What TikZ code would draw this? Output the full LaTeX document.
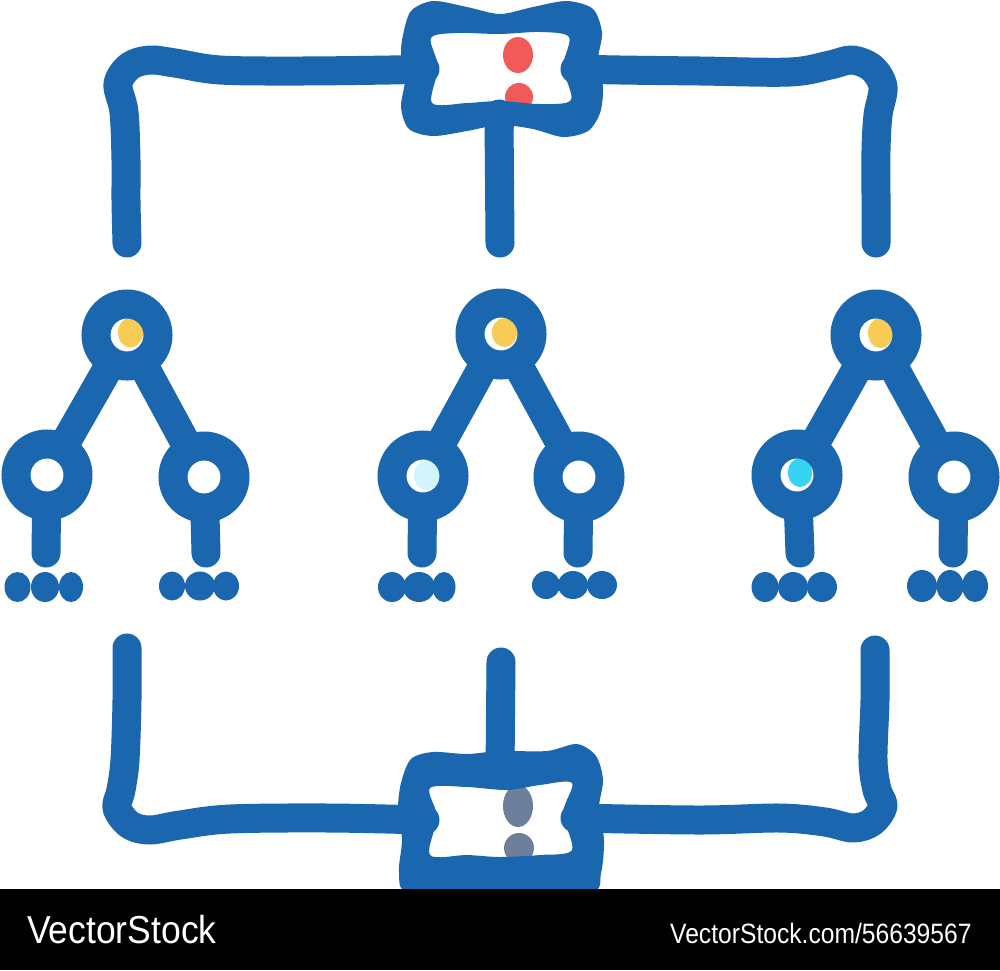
\documentclass[tikz,border=0pt]{standalone}
\usepackage{fontspec}
\newfontfamily\wmfont{Liberation Sans}
\definecolor{brand}{HTML}{1A66AF}
\definecolor{dotyellow}{HTML}{F8CB55}
\definecolor{dotpale}{HTML}{D2F4FC}
\definecolor{dotcyan}{HTML}{35D4F2}
\definecolor{dotred}{HTML}{F25A59}
\definecolor{dotgrey}{HTML}{6E7F9B}
\begin{document}
\begin{tikzpicture}[x=1pt,y=-1pt,
  conn/.style={draw=brand,line width=29pt,line cap=round,line join=round},
  branch/.style={draw=brand,line width=30pt,line cap=round},
  stem/.style={draw=brand,line width=29pt,line cap=round},
  ringstroke/.style={draw=brand,line width=29pt},
  frameshape/.style={fill=brand,even odd rule},
  leaf/.style={fill=brand},
  wm/.style={anchor=base west,inner sep=0pt,text=white}]
\useasboundingbox (0,0) rectangle (1000,970);
\fill[white] (0,0) rectangle (1000,970);

% ---- connectors (under the frames)
\draw[conn] plot[smooth,tension=0.55] coordinates {(425,69) (390,70) (300,71) (220,70) (175,63) (150,60) (130,66) (118,84) (124,112) (126,160) (126,200) (127,243)};
\draw[conn] plot[smooth,tension=0.55] coordinates {(575,69) (620,70) (700,71) (790,72) (830,65) (852,60) (872,68) (883,87) (878,115) (876,150) (876,200) (876,243)};
\draw[conn] (499,118) -- (500,243);
\draw[conn] plot[smooth,tension=0.55] coordinates {(127,648) (127,700) (125,760) (121,790) (117,808) (130,825) (150,830) (180,825) (230,819) (330,818) (425,820)};
\draw[conn] plot[smooth,tension=0.55] coordinates {(875,650) (875,700) (873,760) (877,790) (883,806) (872,822) (853,828) (825,822) (780,818) (700,820) (575,818)};
\draw[conn] (501,662) -- (500,772);

% ---- dots inside frames
\fill[dotred] (518,55) ellipse[x radius=15,y radius=18];
\fill[dotred] (519,97) circle[radius=14];
\fill[dotgrey] (518,806) ellipse[x radius=15,y radius=21];
\fill[dotgrey] (519,848) circle[radius=15];

% ---- top frame
\path[frameshape]
  plot[smooth cycle,tension=0.5] coordinates {(403,35) (411,11) (433,1) (467,7) (500,14) (533,7) (567,1) (593,9) (602,33) (598,60) (603,88) (600,113) (588,131) (563,137) (533,129) (500,125) (467,131) (433,136) (409,129) (401,107) (405,80) (401,55)}
  plot[smooth cycle,tension=0.5] coordinates {(431,38) (457,33) (500,34) (540,32) (569,37) (563,67) (571,100) (540,104) (500,101) (467,103) (432,103) (438,67)};
\draw[conn] (499,114) -- (499,125);

% ---- bottom frame
\path[frameshape]
  plot[smooth cycle,tension=0.5] coordinates {(401,783) (411,759) (433,752) (467,754) (500,751) (547,751) (577,744) (596,756) (603,780) (599,808) (604,840) (601,873) (590,893) (500,895) (410,893) (399,873) (402,840) (398,810)}
  plot[smooth cycle,tension=0.5] coordinates {(430,788) (467,787) (507,790) (540,785) (572,783) (563,813) (572,850) (540,855) (500,857) (467,855) (430,855) (437,817)};

% ---- trees: coordinates
\coordinate (t1) at (127,335);  \coordinate (l1) at (47,475);   \coordinate (r1) at (204,477);
\coordinate (t2) at (501,334);  \coordinate (l2) at (423,476);  \coordinate (r2) at (579,477);
\coordinate (t3) at (876,335);  \coordinate (l3) at (797,475);  \coordinate (r3) at (954,477);
\coordinate (s1l) at (46,553);  \coordinate (s1r) at (206,553);
\coordinate (s2l) at (422,553); \coordinate (s2r) at (578,553);
\coordinate (s3l) at (800,553); \coordinate (s3r) at (953,553);

% branches and stems
\foreach \t/\l/\r in {t1/l1/r1,t2/l2/r2,t3/l3/r3}{
  \draw[branch] (\t) -- (\l);
  \draw[branch] (\t) -- (\r);
}
\draw[stem] (l1) -- (s1l); \draw[stem] (r1) -- (s1r);
\draw[stem] (l2) -- (s2l); \draw[stem] (r2) -- (s2r);
\draw[stem] (l3) -- (s3l); \draw[stem] (r3) -- (s3r);

% hole backgrounds
\foreach \c in {t1,l1,r1,t2,l2,r2,t3,l3,r3}{\fill[white] (\c) circle[radius=20];}
% coloured dots in holes
\fill[dotyellow] (130.5,332.5) ellipse[x radius=12.5,y radius=15];
\fill[dotyellow] (504.5,332.5) ellipse[x radius=12.5,y radius=14.5];
\fill[dotyellow] (880.5,333) ellipse[x radius=12.5,y radius=15];
\fill[dotpale] (427,475) ellipse[x radius=13,y radius=15];
\fill[dotcyan] (800,472.5) ellipse[x radius=12,y radius=14.5];
% rings
\foreach \c in {t1,l1,r1,t2,l2,r2,t3,l3,r3}{\draw[ringstroke] (\c) circle[radius=31];}

% leaves (three dots under each stem)
\foreach \x/\rx in {17.5/13,45/14,71/12}{\fill[leaf] (\x,587) ellipse[x radius=\rx,y radius=15];}
\foreach \x/\rx in {172/13,200/15,226/13}{\fill[leaf] (\x,586) ellipse[x radius=\rx,y radius=14.5];}
\foreach \x/\rx in {392/14,419/16,444/11.5}{\fill[leaf] (\x,587) ellipse[x radius=\rx,y radius=15];}
\foreach \x/\rx in {546/14,573/15,602/15}{\fill[leaf] (\x,585) ellipse[x radius=\rx,y radius=14];}
\foreach \x/\rx in {765/13.5,793/15,822/15}{\fill[leaf] (\x,587) ellipse[x radius=\rx,y radius=15];}
\foreach \x/\rx in {922/15,950/13.5,975/13}{\fill[leaf] (\x,586) ellipse[x radius=\rx,y radius=16];}

% ---- watermark bar
\fill[black] (0,889) rectangle (1000,970);
\node[wm,font=\wmfont\fontsize{39}{39}\selectfont] (wmleft) at (27,943) {\scalebox{0.91}[1]{VectorStock}};
\node[wm,font=\wmfont\fontsize{28}{28}\selectfont] (wmright) at (670,943) {\scalebox{0.88}[1]{VectorStock.com/56639567}};
\end{tikzpicture}
\end{document}
